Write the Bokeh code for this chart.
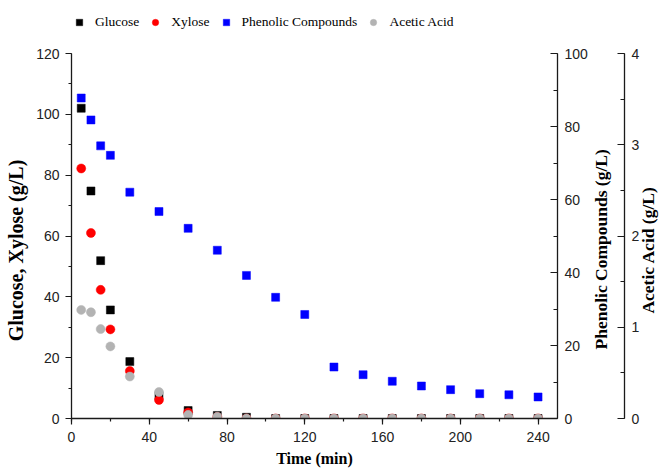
import math
from bokeh.plotting import figure
from bokeh.models import (Range1d, LinearAxis, SingleIntervalTicker, FixedTicker, Legend,
                          LegendItem, CustomJSTickFormatter)
from bokeh.core.properties import value
from bokeh.embed import file_html
from bokeh.resources import INLINE

# ---------------- data ----------------
time_min = [5, 10, 15, 20, 30, 45, 60, 75, 90, 105, 120, 135, 150, 165, 180, 195, 210, 225, 240]
glucose = [102.0, 74.8, 51.9, 35.7, 18.7, 7.5, 2.6, 1.0, 0.4, 0, 0, 0, 0, 0, 0, 0, 0, 0, 0]
xylose = [82.2, 61.0, 42.3, 29.3, 15.6, 6.1, 2.0, 0.5, 0, 0, 0, 0, 0, 0, 0, 0, 0, 0, 0]
phenolic = [87.8, 81.8, 74.7, 72.1, 62.0, 56.7, 52.1, 46.1, 39.2, 33.2, 28.5, 14.1, 12.0, 10.2, 8.9, 7.9, 6.8, 6.5, 5.9]
acetic = [1.19, 1.165, 0.98, 0.79, 0.46, 0.29, 0.04, 0.02, 0, 0, 0, 0, 0, 0, 0, 0, 0, 0, 0]

series_names = ["Glucose", "Xylose", "Phenolic Compounds", "Acetic Acid"]
x_title = "Time (min)"
left_title = "Glucose, Xylose (g/L)"
phen_title = "Phenolic Compounds (g/L)"
acet_title = "Acetic Acid (g/L)"

# axis extents shown in the original
left_max, phen_max, acet_max, time_max = 120, 100, 4, 250

TICK_FONT = "Liberation Sans"
TITLE_FONT = "Liberation Serif"
AX_COLOR = "#1a1a1a"
NBSP = "\u00a0"

# frame spans 12..418 px; the axes themselves (bounds) span 53..418 px as in the original
FRAME_TOP, AXIS_TOP, AXIS_BOTTOM = 12, 53, 418
stretch = (AXIS_BOTTOM - FRAME_TOP) / (AXIS_BOTTOM - AXIS_TOP)

p = figure(width=670, height=470, title=None,
           x_range=Range1d(0, time_max), y_range=Range1d(0, left_max * stretch),
           output_backend="svg", toolbar_location=None,
           min_border_left=71, min_border_right=109, min_border_top=FRAME_TOP,
           min_border_bottom=470 - AXIS_BOTTOM)
p.outline_line_color = None
p.xgrid.visible = False
p.ygrid.visible = False
p.extra_y_ranges = {"phen": Range1d(0, phen_max * stretch), "acet": Range1d(0, acet_max * stretch)}


def style_axis(ax, interval, tick_in, tick_out, standoff):
    ax.ticker = SingleIntervalTicker(interval=interval, num_minor_ticks=2)
    ax.axis_line_color = AX_COLOR
    ax.axis_line_width = 1.3
    ax.major_tick_line_color = AX_COLOR
    ax.minor_tick_line_color = AX_COLOR
    ax.major_tick_line_width = 1.2
    ax.minor_tick_line_width = 1.2
    ax.major_tick_in = tick_in
    ax.major_tick_out = tick_out
    ax.minor_tick_in = int(round(tick_in * 0.55))
    ax.minor_tick_out = int(round(tick_out * 0.55))
    ax.major_label_standoff = standoff
    ax.major_label_text_font = TICK_FONT
    ax.major_label_text_font_size = "14px"
    ax.major_label_text_color = "#222222"


def style_label(ax, size, standoff):
    ax.axis_label_text_font = TITLE_FONT
    ax.axis_label_text_font_style = "bold"
    ax.axis_label_text_font_size = size
    ax.axis_label_text_color = "black"
    ax.axis_label_standoff = standoff


def title_axis(range_name, anchor, text, standoff):
    # a bare axis whose single label is the (bottom-to-top) axis title
    ax = LinearAxis(y_range_name=range_name, ticker=FixedTicker(ticks=[anchor]),
                    formatter=CustomJSTickFormatter(args=dict(t=text), code="return t"),
                    axis_line_color=None, major_tick_line_color=None,
                    minor_tick_line_color=None, major_tick_in=0, major_tick_out=0,
                    minor_tick_in=0, minor_tick_out=0,
                    major_label_orientation=math.pi / 2, major_label_standoff=standoff,
                    major_label_text_font=TITLE_FONT, major_label_text_font_style="bold",
                    major_label_text_font_size="17.5px", major_label_text_color="black")
    return ax


# bottom axis
xa = p.xaxis[0]
style_axis(xa, 40, 0, 6, 7)
xa.axis_label = x_title
style_label(xa, "16px", 5)

# left axis
ya = p.yaxis[0]
style_axis(ya, 20, 0, 6, 6)
ya.bounds = (0, left_max)
ya.axis_label = left_title + NBSP * 14
style_label(ya, "20px", 6)

# right axes
phen_axis = LinearAxis(y_range_name="phen", bounds=(0, phen_max))
style_axis(phen_axis, 20, 7, 0, 7)
acet_axis = LinearAxis(y_range_name="acet", bounds=(0, acet_max))
style_axis(acet_axis, 1, 7, 0, 7)

# lower ends of the right-hand titles, in each axis' units
phen_title_start, acet_title_start = 18.9, 1.15

p.add_layout(phen_axis, "right")
p.add_layout(title_axis("phen", phen_title_start, phen_title, 11), "right")
p.add_layout(acet_axis, "right")
p.add_layout(title_axis("acet", acet_title_start, acet_title, 5), "right")

# series
r_glu = p.scatter(time_min, glucose, marker="square", size=8, fill_color="black",
                  line_color="black", line_width=0.5)
r_xyl = p.scatter(time_min, xylose, marker="circle", size=9, fill_color="#FF0000",
                  line_color="#FF0000", line_width=0.5)
r_phe = p.scatter(time_min, phenolic, marker="square", size=8, fill_color="#0000FF",
                  line_color="#0000FF", line_width=0.5, y_range_name="phen")
r_ace = p.scatter(time_min, acetic, marker="circle", size=9, fill_color="#B3B3B3",
                  line_color="#B3B3B3", line_width=0.5, y_range_name="acet")

# legend across the top of the frame
leg = Legend(items=[LegendItem(label=value(n), renderers=[r])
                    for n, r in zip(series_names, [r_glu, r_xyl, r_phe, r_ace])],
             location=(0, 388), orientation="horizontal",
             padding=0, margin=0, spacing=8, border_line_color=None, background_fill_alpha=0,
             glyph_width=16, glyph_height=16, label_height=16, label_standoff=8,
             label_text_font=TITLE_FONT, label_text_font_size="13.5px",
             label_text_color="black")
p.add_layout(leg)

open("out.html", "w").write(file_html(p, INLINE))
